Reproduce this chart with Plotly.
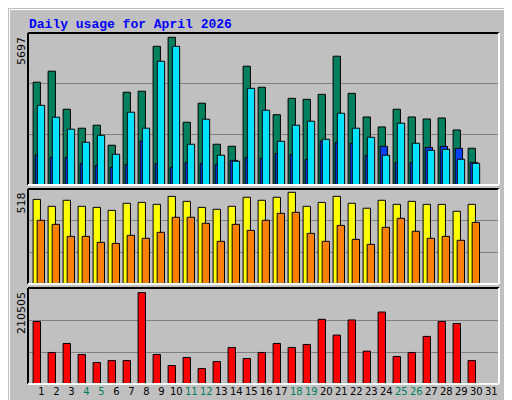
import numpy as np
import plotly.graph_objects as go

days = list(range(1, 32))
weekends = [4, 5, 11, 12, 18, 19, 25, 26]

# values (day 31 has no data)
hits = [3965, 4389, 2923, 2190, 2306, 1534, 3578, 3617, 5350, 5697,
        2422, 3155, 1572, 1495, 4582, 3771, 2712, 3343, 3305, 3498,
        4968, 3536, 2624, 2239, 2923, 2624, 2547, 2585, 2123, 1418]
files = [3073, 2615, 2153, 1649, 1919, 1186, 2808, 2191, 4774, 5350,
         1572, 2538, 1149, 918, 3730, 2885, 1688, 2307, 2461, 1765,
         2769, 2191, 1841, 1149, 2384, 1611, 1340, 1379, 992, 837]
pages = [1157, 1067, 1067, 833, 756, 679, 795, 1697, 833, 679,
         872, 833, 795, 949, 1067, 1027, 1220, 1181, 987, 1697,
         1650, 1611, 1142, 1490, 872, 872, 1451, 1490, 1413, 872]
visits = [478, 439, 473, 439, 433, 416, 456, 461, 450, 495,
          467, 433, 422, 439, 490, 473, 490, 518, 439, 461,
          495, 456, 428, 473, 450, 467, 450, 450, 411, 450]
sites = [360, 337, 269, 269, 235, 229, 275, 258, 292, 377,
         377, 343, 241, 337, 303, 360, 399, 405, 286, 241,
         331, 252, 224, 320, 371, 298, 258, 269, 247, 348]
kbytes = [144000, 72600, 93400, 68000, 49600, 54200, 54200, 210505, 68000, 42600,
          61100, 35700, 51900, 84200, 58800, 72600, 93400, 84200, 91100, 149000,
          112700, 147500, 75600, 165700, 63400, 72600, 109600, 144000, 139400, 54200]

BG = "#c0c0c0"
OFF, W = -0.55, 0.49

fig = go.Figure()

def bar(y, color, offset, axis):
    fig.add_trace(go.Bar(x=days[:len(y)], y=y, offset=offset, width=W,
                         marker=dict(color=color, line=dict(color="black", width=1)),
                         xaxis="x" + axis, yaxis="y" + axis, hoverinfo="skip"))

bar(hits, "#00805c", OFF, "")
bar(pages, "#0040ff", OFF + 0.14, "")
bar(files, "#00e0ff", OFF + 0.28, "")
bar(visits, "#ffff00", OFF, "2")
bar(sites, "#ff8000", OFF + 0.27, "2")
bar(kbytes, "#ff0000", OFF, "3")

x0, x1 = 20 / 512, 491 / 512
panels = {"": (25, 177, 5697, 147.7), "2": (181, 276, 518, 91.7), "3": (280, 376, 210505, 91.4)}
ticktext = [f"<span style='color:#00805c'>{d}</span>" if d in weekends else str(d) for d in days]

layout = dict(width=512, height=400, paper_bgcolor=BG, plot_bgcolor=BG,
              margin=dict(l=0, r=0, t=0, b=0), barmode="overlay", showlegend=False,
              font=dict(family="DejaVu Sans", size=11, color="black"))
shapes, annotations = [], []
for ax, (top, bot, vmax, hpx) in panels.items():
    rng = vmax * (bot - top) / hpx
    yd = [1 - bot / 400, 1 - top / 400]
    layout["xaxis" + ax] = dict(domain=[x0, x1], range=[0.11, 31.51], anchor="y" + ax,
                                showgrid=False, zeroline=False, automargin=False,
                                tickmode="array", tickvals=days if ax == "3" else [],
                                ticktext=ticktext, ticks="", tickangle=0,
                                tickfont=dict(size=10))
    layout["yaxis" + ax] = dict(domain=yd, range=[0, rng], anchor="x" + ax,
                                tickvals=[rng / 3, 2 * rng / 3], showticklabels=False,
                                gridcolor="#808080", gridwidth=1, zeroline=False)
    # inset frame: dark top/left, white bottom/right
    shapes += [
        dict(type="line", xref="paper", yref="paper", x0=x0, x1=x1, y0=yd[1], y1=yd[1], line=dict(color="black", width=2)),
        dict(type="line", xref="paper", yref="paper", x0=x0, x1=x0, y0=yd[0], y1=yd[1], line=dict(color="black", width=2)),
        dict(type="line", xref="paper", yref="paper", x0=x0, x1=x1, y0=yd[0], y1=yd[0], line=dict(color="white", width=2)),
        dict(type="line", xref="paper", yref="paper", x0=x1, x1=x1, y0=yd[0], y1=yd[1], line=dict(color="white", width=2)),
    ]
    annotations.append(dict(text=str(vmax), xref="paper", yref="paper", x=13 / 512, y=1 - (top + 2) / 400,
                            xanchor="center", yanchor="top", textangle=-90, showarrow=False,
                            font=dict(size=11)))

# outer bevel
shapes += [
    dict(type="rect", xref="paper", yref="paper", x0=0.003, x1=0.995, y0=0.006, y1=0.996,
         line=dict(color="white", width=1), layer="below"),
    dict(type="line", xref="paper", yref="paper", x0=0.995, x1=0.995, y0=0.006, y1=0.996,
         line=dict(color="#808080", width=3), layer="below"),
    dict(type="line", xref="paper", yref="paper", x0=0.003, x1=0.995, y0=0.006, y1=0.006,
         line=dict(color="#808080", width=3), layer="below"),
]

mono = dict(family="Liberation Mono", size=11)
side = dict(xref="paper", yref="paper", x=494 / 512, xanchor="left", yanchor="bottom",
            textangle=-90, showarrow=False, font=mono)
annotations += [
    dict(text="<b>Daily usage for April 2026</b>", xref="paper", yref="paper", x=19 / 512, y=1 - 7 / 400,
         xanchor="left", yanchor="top", showarrow=False,
         font=dict(family="Liberation Mono", size=13, color="#0000ff")),
    dict(text="<span style='color:#00e0ff'>Pages</span> / <span style='color:#0040ff'>Files</span> / <span style='color:#00805c'>Hits</span>",
         y=1 - 138 / 400, **side),
    dict(text="<span style='color:#ff8000'>Sites</span> / <span style='color:#ffff00'>Visits</span>",
         y=1 - 268 / 400, **side),
    dict(text="<span style='color:#ff0000'>kB F</span> / <span style='color:#0040ff'>kB In</span> / <span style='color:#00c000'>kB Out</span>",
         y=1 - 396 / 400, **side),
]
layout["shapes"] = shapes
layout["annotations"] = annotations
fig.update_layout(**layout)
fig.write_html("out.html")
